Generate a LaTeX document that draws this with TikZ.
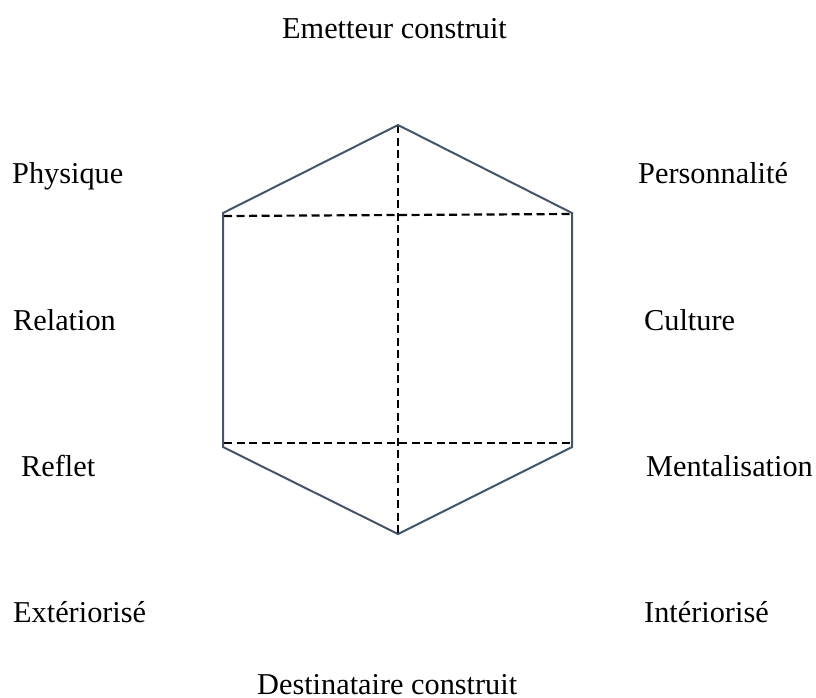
\documentclass[tikz,border=0pt]{standalone}
\usepackage{fontspec}
\setmainfont{Liberation Serif}
\definecolor{edgeslate}{HTML}{44546A}
\begin{document}
\begin{tikzpicture}[x=1pt,y=-1pt,
  lbl/.style={anchor=base west,inner sep=0pt,font=\fontsize{30.3}{36}\selectfont},
  outline/.style={draw=edgeslate,line width=2pt,line join=miter},
  guide/.style={draw=black,line width=2.2pt,dash pattern=on 8pt off 4.5pt}]
  \useasboundingbox (0,0) rectangle (816,697);
  % hexagon corners
  \coordinate (T)  at (398,125);
  \coordinate (UL) at (223,213);
  \coordinate (UR) at (572,213);
  \coordinate (LL) at (223,447);
  \coordinate (LR) at (572,447);
  \coordinate (B)  at (398,534);
  % inner dashed guides
  \coordinate (gUL) at (224,216);
  \coordinate (gUR) at (572,214);
  \coordinate (gLL) at (224,443);
  \coordinate (gLR) at (572,443);
  \draw[guide] (T) -- (B);
  \draw[guide] (gUL) -- (gUR);
  \draw[guide] (gLL) -- (gLR);
  \draw[outline] (UL) -- (T) -- (UR) -- (LR) -- (B) -- (LL) -- cycle;
  % labels
  \node[lbl] (em)  at (282,38)  {Emetteur construit};
  \node[lbl] (phy) at (12,183)  {Physique};
  \node[lbl] (per) at (638,183) {Personnalité};
  \node[lbl] (rel) at (13,330)  {Relation};
  \node[lbl] (cul) at (644,330) {Culture};
  \node[lbl] (ref) at (21,476)  {Reflet};
  \node[lbl] (men) at (646,476) {Mentalisation};
  \node[lbl] (ext) at (13,622)  {Extériorisé};
  \node[lbl] (int) at (644,622) {Intériorisé};
  \node[lbl] (des) at (257,694) {Destinataire construit};
\end{tikzpicture}
\end{document}
